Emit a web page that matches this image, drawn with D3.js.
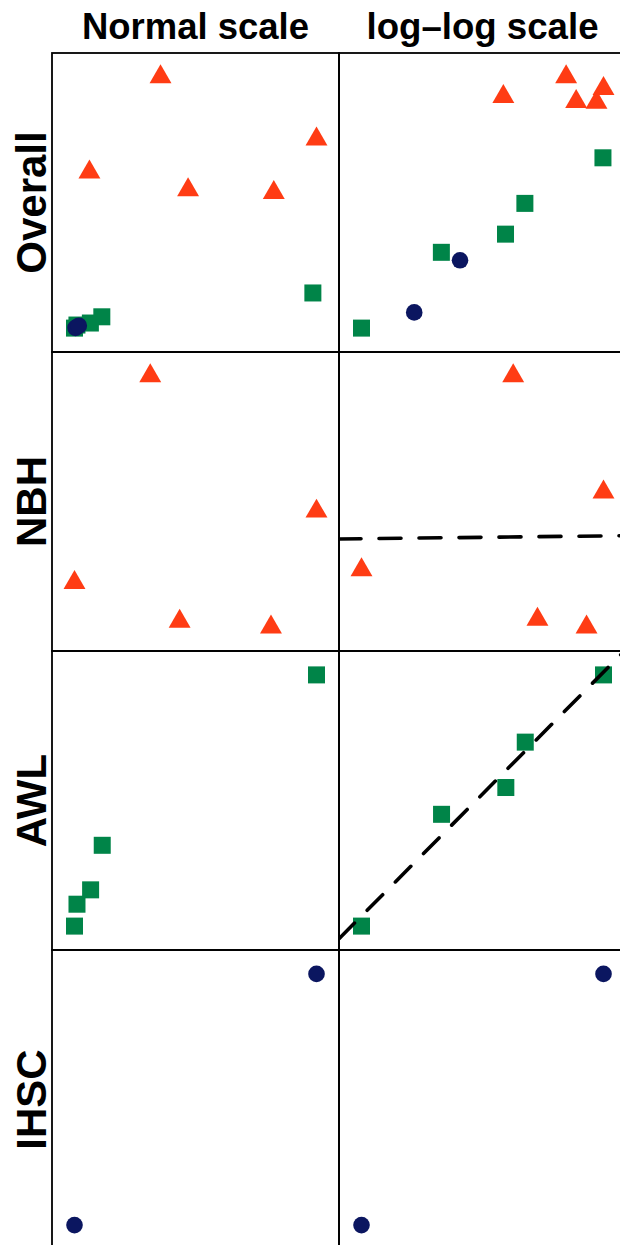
<!DOCTYPE html>
<html>
<head>
<meta charset="utf-8">
<script src="https://cdn.jsdelivr.net/npm/d3@7"></script>
<style>
  html, body { margin: 0; padding: 0; background: #fff; }
  svg { display: block; overflow: hidden; }
  text { font-family: "Liberation Sans", Arial, Helvetica, sans-serif; font-weight: bold; fill: #000; }
</style>
</head>
<body>
<svg id="chart" width="620" height="1245"></svg>
<script>
// Column headings and row headings
const colTitles = ["Normal scale", "log\u2013log scale"];
const rowTitles = ["Overall", "NBH", "AWL", "IHSC"];

// NBH series (triangles)
const nbhX = [503, 2850, 3760, 6590, 8000];
const nbhY = [2674, 4300, 2368, 2324, 3235];

// AWL series (squares)
const awlX = [10, 90.8, 534, 912, 7880];
const awlY = [10, 62.3, 96.6, 203, 610];

// IHSC series (circles)
const ihscX = [42.9, 152];
const ihscY = [14.6, 51.4];

const colors = { NBH: "#ff3c14", AWL: "#008448", IHSC: "#0b1660" };

const series = [
  { key: "NBH", shape: "triangle", xs: nbhX, ys: nbhY },
  { key: "AWL", shape: "square", xs: awlX, ys: awlY },
  { key: "IHSC", shape: "circle", xs: ihscX, ys: ihscY }
];

// rows: which series appear in each row, and whether log panel gets a fit line
const rows = [
  { title: rowTitles[0], keys: ["NBH", "AWL", "IHSC"], fit: false },
  { title: rowTitles[1], keys: ["NBH"], fit: true },
  { title: rowTitles[2], keys: ["AWL"], fit: true },
  { title: rowTitles[3], keys: ["IHSC"], fit: false }
];

// grid geometry
const colX = [52, 339];
const panelW = 287;
const rowY = [53, 352, 651, 950];
const panelH = 299;
const padX = 22.5, padY = 23.9;

const svg = d3.select("#chart");

// column headings
colTitles.forEach((t, i) => {
  svg.append("text")
    .attr("x", colX[i] + panelW / 2)
    .attr("y", 39)
    .attr("text-anchor", "middle")
    .attr("font-size", 36)
    .attr("textLength", i === 0 ? 227 : 232)
    .attr("lengthAdjust", "spacingAndGlyphs")
    .text(t);
});

const defs = svg.append("defs");

rows.forEach((row, ri) => {
  const y0 = rowY[ri];
  // row heading, rotated
  svg.append("text")
    .attr("transform", `translate(46,${y0 + panelH / 2}) rotate(-90)`)
    .attr("text-anchor", "middle")
    .attr("font-size", 42)
    .text(row.title);

  const rowSeries = series.filter(s => row.keys.includes(s.key));
  const allX = rowSeries.flatMap(s => s.xs);
  const allY = rowSeries.flatMap(s => s.ys);

  ["linear", "log"].forEach((kind, ci) => {
    const x0 = colX[ci];
    const make = () => kind === "log" ? d3.scaleLog() : d3.scaleLinear();
    const xScale = make().domain(d3.extent(allX)).range([x0 + padX, x0 + panelW - padX]);
    const yScale = make().domain(d3.extent(allY)).range([y0 + panelH - padY, y0 + padY]);

    const clipId = `clip-${ri}-${ci}`;
    defs.append("clipPath").attr("id", clipId)
      .append("rect").attr("x", x0).attr("y", y0).attr("width", panelW).attr("height", panelH);

    const g = svg.append("g").attr("clip-path", `url(#${clipId})`);

    rowSeries.forEach(s => {
      const pts = s.xs.map((x, i) => ({ x, y: s.ys[i] }));
      if (s.shape === "triangle") {
        const sym = d3.symbol().type(d3.symbolTriangle).size(208);
        g.selectAll(null).data(pts).enter().append("path")
          .attr("d", sym)
          .attr("transform", d => `translate(${xScale(d.x)},${yScale(d.y)})`)
          .attr("fill", colors[s.key]);
      } else if (s.shape === "square") {
        const side = 17;
        g.selectAll(null).data(pts).enter().append("rect")
          .attr("x", d => xScale(d.x) - side / 2)
          .attr("y", d => yScale(d.y) - side / 2)
          .attr("width", side).attr("height", side)
          .attr("fill", colors[s.key]);
      } else {
        g.selectAll(null).data(pts).enter().append("circle")
          .attr("cx", d => xScale(d.x))
          .attr("cy", d => yScale(d.y))
          .attr("r", 8.3)
          .attr("fill", colors[s.key]);
      }
    });

    // least-squares fit of log y on log x, drawn across the log panel
    if (kind === "log" && row.fit) {
      const s = rowSeries[0];
      const lx = s.xs.map(Math.log10), ly = s.ys.map(Math.log10);
      const mx = d3.mean(lx), my = d3.mean(ly);
      const sxy = d3.sum(lx, (v, i) => (v - mx) * (ly[i] - my));
      const sxx = d3.sum(lx, v => (v - mx) * (v - mx));
      const slope = sxy / sxx, icpt = my - slope * mx;
      const ends = [x0, x0 + panelW].map(px => {
        const xv = xScale.invert(px);
        const yv = Math.pow(10, icpt + slope * Math.log10(xv));
        return [px, yScale(yv)];
      });
      g.append("path")
        .attr("d", d3.line()(ends))
        .attr("fill", "none")
        .attr("stroke", "#000")
        .attr("stroke-width", 3.6)
        .attr("stroke-linecap", "round")
        .attr("stroke-dasharray", "22 18");
    }

    // panel frame
    svg.append("rect")
      .attr("x", x0).attr("y", y0)
      .attr("width", panelW).attr("height", panelH)
      .attr("fill", "none")
      .attr("stroke", "#000")
      .attr("stroke-width", 1.8);
  });
});
</script>
</body>
</html>
